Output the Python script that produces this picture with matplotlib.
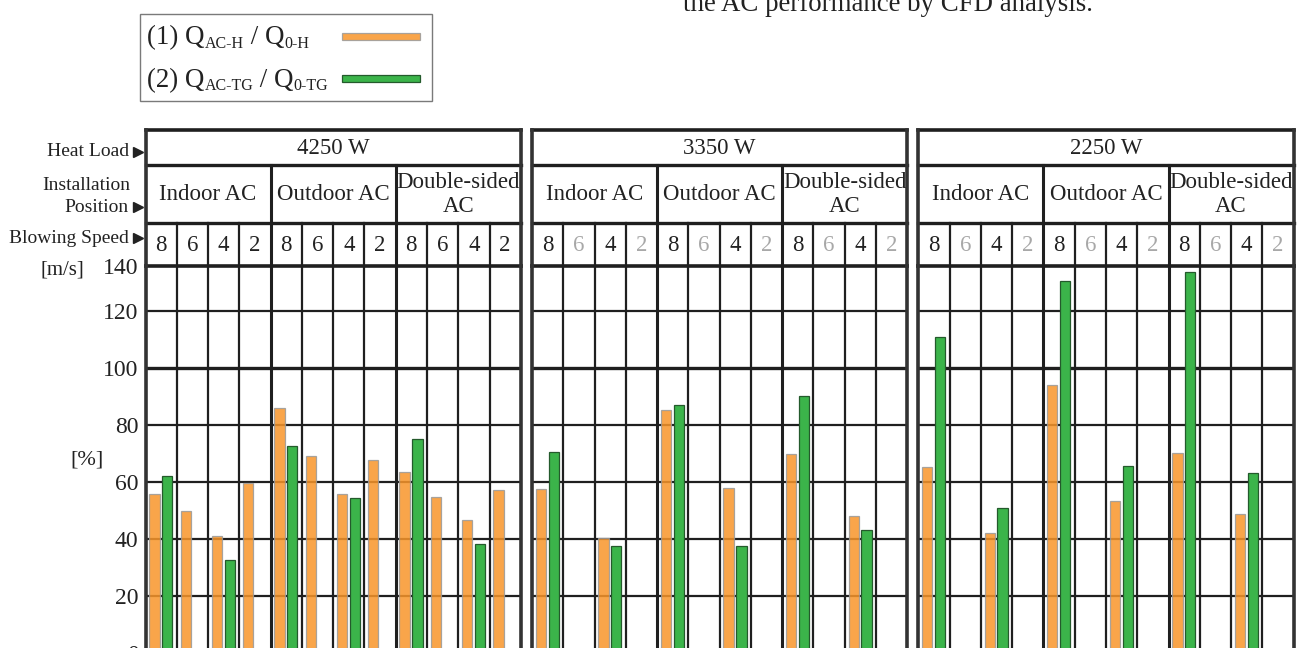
import matplotlib
matplotlib.use("Agg")
import matplotlib.pyplot as plt
from matplotlib.lines import Line2D
from matplotlib.patches import Rectangle
import numpy as np

plt.rcParams['font.family'] = ['Liberation Serif', 'DejaVu Serif']

nan = np.nan

# ---- data -------------------------------------------------------------
heat_loads = ["4250 W", "3350 W", "2250 W"]
positions = ["Indoor AC", "Outdoor AC", "Double-sided\nAC"]
speeds = ["8", "6", "4", "2"]

# Q_AC-H / Q_0-H [%], ordered Indoor(8,6,4,2), Outdoor(8,6,4,2), Double-sided(8,6,4,2)
h_4250 = [55.6, 49.8, 41.1, 59.4, 85.9, 69.2, 55.6, 67.5, 63.5, 54.6, 46.7, 57.0]
h_3350 = [57.5, nan, 40.1, nan, 85.0, nan, 57.8, nan, 69.9, nan, 48.1, nan]
h_2250 = [65.0, nan, 41.9, nan, 93.9, nan, 53.1, nan, 70.0, nan, 48.8, nan]

# Q_AC-TG / Q_0-TG [%]
tg_4250 = [62.1, nan, 32.4, nan, 72.4, nan, 54.2, nan, 74.9, nan, 38.0, nan]
tg_3350 = [70.6, nan, 37.3, nan, 86.9, nan, 37.3, nan, 90.2, nan, 42.9, nan]
tg_2250 = [110.9, nan, 50.9, nan, 130.3, nan, 65.4, nan, 133.5, nan, 62.9, nan]

ratio_h = [h_4250, h_3350, h_2250]
ratio_tg = [tg_4250, tg_3350, tg_2250]

y_ticks = [0, 20, 40, 60, 80, 100, 120]
y_top = 135.7
y_top_label = "140"

# ---- style ------------------------------------------------------------
W, H, DPI = 1303, 648, 100
ORANGE = '#F8962A'
GREEN = '#3BB44A'
GRID = '#1f1f1f'
MUTED = '#a8a8a8'

def fx(px):
    return px / W

def fy(py):
    return 1 - py / H

fig = plt.figure(figsize=(W / DPI, H / DPI), dpi=DPI)

panel_left = [145.5, 532.0, 918.3]
panel_w = 375.3
plot_top, plot_bot = 266.0, 652.7
head_top, row1_bot, row2_bot = 130.0, 165.0, 222.7

n_cells = 12
x = np.arange(n_cells)
bar_w = 0.33

for p, left in enumerate(panel_left):
    # ---- bar area ----
    ax = fig.add_axes([fx(left), fy(plot_bot), panel_w / W, (plot_bot - plot_top) / H])
    ax.set_xlim(-0.5, n_cells - 0.5)
    ax.set_ylim(0, y_top)
    for s in ax.spines.values():
        s.set_visible(False)
    ax.set_xticks([])
    if p == 0:
        ax.set_yticks(y_ticks + [y_top])
        ax.set_yticklabels([str(v) for v in y_ticks] + [y_top_label], fontsize=17, color='#222222')
        ax.tick_params(axis='y', length=0, pad=5)
    else:
        ax.set_yticks([])

    for yv in y_ticks:
        ax.axhline(yv, color=GRID, lw=2.4 if yv == 100 else 1.6, zorder=1)
    ax.axhline(y_top, color=GRID, lw=2.6, zorder=1, clip_on=False)
    for k in range(1, n_cells):
        ax.axvline(k - 0.5, color=GRID, lw=2.2 if k % 4 == 0 else 1.6, zorder=1)
    for xb in (-0.5, n_cells - 0.5):
        ax.axvline(xb, color='#333333', lw=2.6, zorder=1, clip_on=False)

    hv = np.array(ratio_h[p], dtype=float)
    tv = np.array(ratio_tg[p], dtype=float)
    mh = ~np.isnan(hv)
    mt = ~np.isnan(tv)
    ax.bar(x[mh] - 0.215, hv[mh], width=bar_w, color=ORANGE, alpha=0.85,
           edgecolor='#9a9a9a', linewidth=0.9, zorder=2)
    ax.bar(x[mt] + 0.195, tv[mt], width=bar_w, color=GREEN,
           edgecolor='#245a2c', linewidth=0.9, zorder=3)

    # ---- header table ----
    hax = fig.add_axes([fx(left), fy(plot_top), panel_w / W, (plot_top - head_top) / H])
    hax.set_xlim(-0.5, n_cells - 0.5)
    hax.set_ylim(plot_top, head_top)
    hax.axis('off')
    for yy in (head_top, row1_bot, row2_bot):
        hax.plot([-0.5, n_cells - 0.5], [yy, yy], color=GRID,
                 lw=2.6 if yy == head_top else 2.4, clip_on=False, solid_capstyle='projecting')
    for xb in (-0.5, n_cells - 0.5):
        hax.plot([xb, xb], [head_top, plot_top], color='#333333', lw=2.6, clip_on=False,
                 solid_capstyle='projecting')
    for k in range(1, n_cells):
        if k % 4 == 0:
            hax.plot([k - 0.5, k - 0.5], [row1_bot, plot_top], color=GRID, lw=2.2, clip_on=False)
        else:
            hax.plot([k - 0.5, k - 0.5], [row2_bot, plot_top], color=GRID, lw=1.6, clip_on=False)

    hax.text(5.5, (head_top + row1_bot) / 2 + 1, heat_loads[p], ha='center', va='center',
             fontsize=16.5, color='#222222')
    for g, label in enumerate(positions):
        hax.text(4 * g + 1.5, (row1_bot + row2_bot) / 2 + 1, label, ha='center', va='center',
                 fontsize=16.5, color='#222222', linespacing=1.2)
    for i in range(n_cells):
        active = (not np.isnan(hv[i])) or (not np.isnan(tv[i]))
        hax.text(i, (row2_bot + plot_top) / 2 + 1, speeds[i % 4], ha='center', va='center',
                 fontsize=16.5, color='#222222' if active else MUTED)

# ---- row captions on the left ----
cap_kw = dict(ha='right', va='center', fontsize=14, color='#222222')
fig.text(fx(129), fy(152), "Heat Load", **cap_kw)
fig.text(fx(130), fy(185), "Installation", **cap_kw)
fig.text(fx(129), fy(207), "Position", **cap_kw)
fig.text(fx(129), fy(238), "Blowing Speed", **cap_kw)
for ty in (152, 207, 238):
    fig.add_artist(Line2D([fx(137.5)], [fy(ty)], marker='>', ms=6.5, color='#222222',
                          transform=fig.transFigure))
fig.text(fx(62), fy(270), "[m/s]", ha='center', va='center', fontsize=15, color='#222222')
fig.text(fx(87), fy(460), "[%]", ha='center', va='center', fontsize=16, color='#222222')

# ---- legend ----
fig.add_artist(Rectangle((fx(140), fy(101)), fx(432) - fx(140), fy(13.5) - fy(101),
                         transform=fig.transFigure, fill=False, edgecolor='#7a7a7a', lw=1.0))
fig.add_artist(Rectangle((fx(342), fy(40)), fx(420) - fx(342), fy(33) - fy(40),
                         transform=fig.transFigure, facecolor=ORANGE, alpha=0.85,
                         edgecolor='#9a9a9a', lw=0.9))
fig.add_artist(Rectangle((fx(342), fy(82)), fx(420) - fx(342), fy(75) - fy(82),
                         transform=fig.transFigure, facecolor=GREEN,
                         edgecolor='#245a2c', lw=0.9))

renderer = fig.canvas.get_renderer()


def rich_line(x0, baseline, parts):
    """Place text pieces one after another; parts are (text, is_subscript)."""
    xcur = x0
    for txt, sub in parts:
        t = fig.text(fx(xcur), fy(baseline + (3.5 if sub else 0)), txt,
                     ha='left', va='baseline', fontsize=11.5 if sub else 19.4,
                     color='#222222')
        bb = t.get_window_extent(renderer=renderer)
        xcur += bb.width


rich_line(147, 44, [("(1) Q", False), ("AC-H", True), (" / Q", False), ("0-H", True)])
rich_line(147, 87, [("(2) Q", False), ("AC-TG", True), (" / Q", False), ("0-TG", True)])

# ---- running text above the figure ----
fig.text(fx(683), fy(11), "the AC performance by CFD analysis.", ha='left', va='baseline',
         fontsize=19.4, color='#222222')

fig.savefig("out.png", dpi=DPI)
